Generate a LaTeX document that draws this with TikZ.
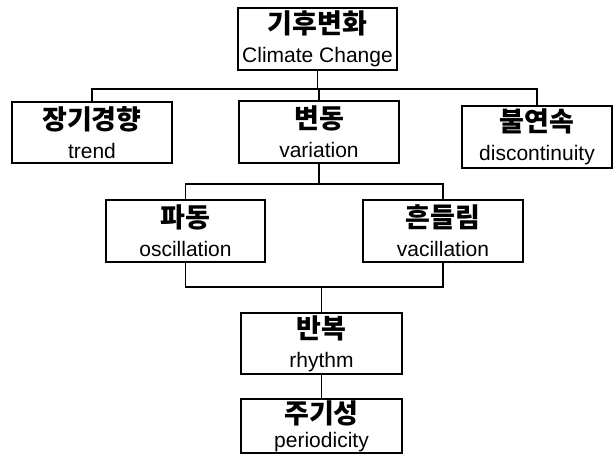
\documentclass[tikz,border=0pt]{standalone}
\usepackage{fontspec}
\setmainfont{Liberation Sans}
\newfontfamily\kr{Noto Sans CJK KR Black}
\newcommand{\kt}[1]{{\kr\fontsize{27}{29}\selectfont #1}}
\begin{document}
\begin{tikzpicture}[x=1pt,y=-1pt,
  box/.style={draw, line width=1.6pt, inner sep=0pt, align=center,
    minimum width=160pt, minimum height=62pt,
    font=\fontsize{21}{29}\selectfont},
  link/.style={line width=1.3pt}]
\useasboundingbox (0,0) rectangle (614,463);
\node[box, minimum width=159pt] (top) at (317.5,39) {\kt{기후변화}\\Climate Change};
\node[box, minimum height=61pt] (trend) at (92,132.5) {\kt{장기경향}\\trend};
\node[box] (var) at (319,132) {\kt{변동}\\variation};
\node[box, minimum width=150pt] (disc) at (537,137) {\kt{불연속}\\discontinuity};
\node[box, minimum width=159pt] (osc) at (185.5,231) {\kt{파동}\\oscillation};
\node[box] (vac) at (443,231) {\kt{흔들림}\\vacillation};
\node[box, minimum width=161pt, minimum height=61pt] (rhy) at (321.5,343.5) {\kt{반복}\\rhythm};
\node[box, minimum width=161pt, minimum height=54pt] (per) at (321.5,426) {\kt{주기성}\\[-5pt]periodicity};
\coordinate (j1) at (0,89);
\coordinate (j2) at (0,184);
\coordinate (j3) at (0,287);
\draw[link] (top.south) -- (top.south |- j1);
\draw[link] (trend.north) -- (trend.north |- j1) -- (disc.north |- j1) -- (disc.north);
\draw[link] (var.north) -- (var.north |- j1);
\draw[link] (var.south) -- (var.south |- j2);
\draw[link] (osc.north) -- (osc.north |- j2) -- (vac.north |- j2) -- (vac.north);
\draw[link] (osc.south) -- (osc.south |- j3) -- (vac.south |- j3) -- (vac.south);
\draw[link] (rhy.north) -- (rhy.north |- j3);
\draw[link] (rhy.south) -- (per.north);
\end{tikzpicture}
\end{document}
